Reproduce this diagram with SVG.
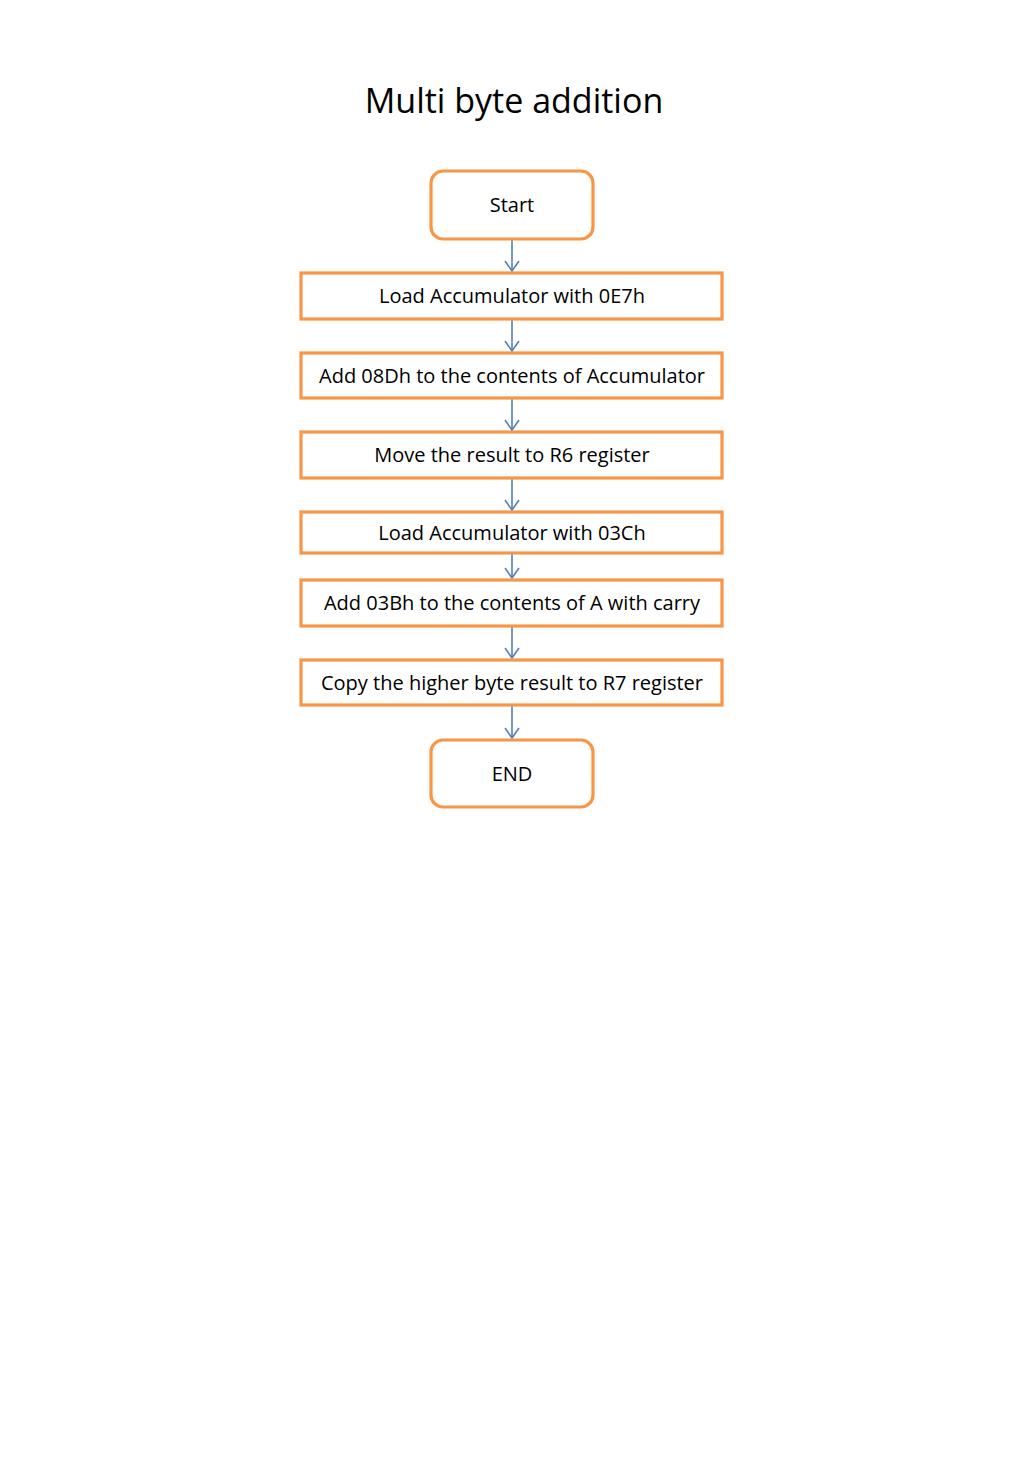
<svg xmlns="http://www.w3.org/2000/svg" width="1024" height="1479" viewBox="0 0 1024 1479">
<defs>
<style>
.box{fill:#fff;stroke:#F79646;stroke-width:3.2}
.lbl{font-family:"Open Sans","Noto Sans",sans-serif;font-size:20px;fill:#000;text-anchor:middle}
.title{font-family:"Open Sans","Noto Sans",sans-serif;font-size:34px;fill:#000;text-anchor:middle}
.con{stroke:#4F81BD;stroke-width:1.6;fill:none}
</style>
<marker id="ah" viewBox="0 0 12 16" refX="11" refY="8" markerWidth="12" markerHeight="16" markerUnits="userSpaceOnUse" orient="auto">
<path d="M1,1 L11,8 L1,15" fill="none" stroke="#4F81BD" stroke-width="1.6"/>
</marker>
</defs>
<rect width="1024" height="1479" fill="#fff"/>
<text class="title" x="514" y="113">Multi byte addition</text>
<g id="connectors">
<line class="con" x1="512" y1="240" x2="512" y2="271" marker-end="url(#ah)"/>
<line class="con" x1="512" y1="320" x2="512" y2="351" marker-end="url(#ah)"/>
<line class="con" x1="512" y1="399" x2="512" y2="430" marker-end="url(#ah)"/>
<line class="con" x1="512" y1="479" x2="512" y2="510" marker-end="url(#ah)"/>
<line class="con" x1="512" y1="554" x2="512" y2="578" marker-end="url(#ah)"/>
<line class="con" x1="512" y1="627" x2="512" y2="658" marker-end="url(#ah)"/>
<line class="con" x1="512" y1="706" x2="512" y2="738" marker-end="url(#ah)"/>
</g>
<g id="start"><rect class="box" x="431" y="171" width="162" height="68" rx="12"/><text class="lbl" x="512" y="212">Start</text></g>
<g id="n1"><rect class="box" x="301" y="273" width="421" height="46"/><text class="lbl" x="512" y="303">Load Accumulator with 0E7h</text></g>
<g id="n2"><rect class="box" x="301" y="353" width="421" height="45"/><text class="lbl" x="512" y="383">Add 08Dh to the contents of Accumulator</text></g>
<g id="n3"><rect class="box" x="301" y="432" width="421" height="46"/><text class="lbl" x="512" y="462">Move the result to R6 register</text></g>
<g id="n4"><rect class="box" x="301" y="512" width="421" height="41"/><text class="lbl" x="512" y="540">Load Accumulator with 03Ch</text></g>
<g id="n5"><rect class="box" x="301" y="580" width="421" height="46"/><text class="lbl" x="512" y="610">Add 03Bh to the contents of A with carry</text></g>
<g id="n6"><rect class="box" x="301" y="660" width="421" height="45"/><text class="lbl" x="512" y="690">Copy the higher byte result to R7 register</text></g>
<g id="end"><rect class="box" x="431" y="740" width="162" height="67" rx="12"/><text class="lbl" x="512" y="781">END</text></g>
</svg>
